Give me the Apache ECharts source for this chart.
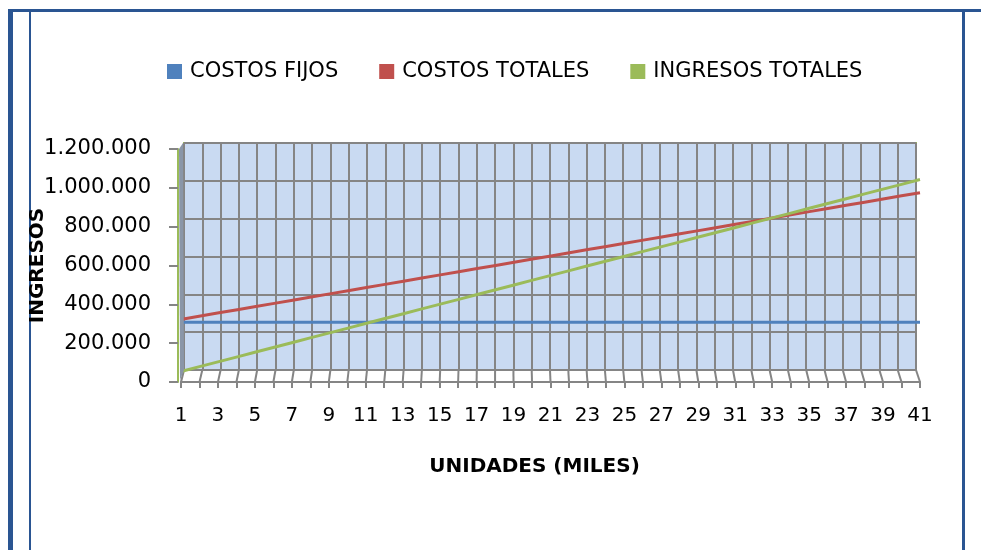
<!DOCTYPE html>
<html>
<head>
<meta charset="utf-8">
<script src="https://cdn.jsdelivr.net/npm/echarts@6/dist/echarts.min.js"></script>
<style>
  html, body { margin: 0; padding: 0; background: #fff; }
  #main { width: 981px; height: 550px; }
</style>
</head>
<body>
<div id="main"></div>
<script>
// datos (unidades en miles)
var unidades = ['1', '2', '3', '4', '5', '6', '7', '8', '9', '10',
  '11', '12', '13', '14', '15', '16', '17', '18', '19', '20',
  '21', '22', '23', '24', '25', '26', '27', '28', '29', '30',
  '31', '32', '33', '34', '35', '36', '37', '38', '39', '40', '41']
var costosFijos = [280000, 280000, 280000, 280000, 280000, 280000, 280000, 280000, 280000, 280000,
  280000, 280000, 280000, 280000, 280000, 280000, 280000, 280000, 280000, 280000,
  280000, 280000, 280000, 280000, 280000, 280000, 280000, 280000, 280000, 280000,
  280000, 280000, 280000, 280000, 280000, 280000, 280000, 280000, 280000, 280000, 280000]
var costosTotales = [296500, 313000, 329500, 346000, 362500, 379000, 395500, 412000, 428500, 445000,
  461500, 478000, 494500, 511000, 527500, 544000, 560500, 577000, 593500, 610000,
  626500, 643000, 659500, 676000, 692500, 709000, 725500, 742000, 758500, 775000,
  791500, 808000, 824500, 841000, 857500, 874000, 890500, 907000, 923500, 940000, 956500]
var ingresosTotales = [25000, 50000, 75000, 100000, 125000, 150000, 175000, 200000, 225000, 250000,
  275000, 300000, 325000, 350000, 375000, 400000, 425000, 450000, 475000, 500000,
  525000, 550000, 575000, 600000, 625000, 650000, 675000, 700000, 725000, 750000,
  775000, 800000, 825000, 850000, 875000, 900000, 925000, 950000, 975000, 1000000, 1025000]
var yMin = 0
var yMax = 1200000
var yInterval = 200000

// geometria del "3D": eje frontal y pared del fondo
var FRONT = { left: 181, right: 920 }
var BACK = { left: 184, right: 916, bottom: 370 }

var FONT = 'DejaVu Sans'
var GRIS = '#858585'
var AZUL = '#4f81bd'
var ROJO = '#c0504d'
var VERDE = '#9bbb59'

function miles(v) {
  return String(v).replace(/\B(?=(\d{3})+(?!\d))/g, '.')
}

var chart = echarts.init(document.getElementById('main'))

var option = {
  animation: false,
  textStyle: { fontFamily: FONT },
  graphic: [
    // marco de la pagina
    { type: 'rect', shape: { x: 8, y: 9, width: 973, height: 3 }, style: { fill: '#2a5592' } },
    { type: 'rect', shape: { x: 8, y: 9, width: 5, height: 541 }, style: { fill: '#2a5592' } },
    { type: 'rect', shape: { x: 29, y: 11, width: 2, height: 539 }, style: { fill: '#2a5592' } },
    { type: 'rect', shape: { x: 962, y: 11, width: 3, height: 539 }, style: { fill: '#2a5592' } },
    // pared lateral
    {
      type: 'polygon',
      shape: { points: [[179, 149], [183, 143], [184, 370], [180, 380]] },
      style: { fill: '#8a96a8' },
      z: 10
    }
  ],
  legend: {
    data: ['COSTOS FIJOS', 'COSTOS TOTALES', 'INGRESOS TOTALES'],
    icon: 'rect',
    itemWidth: 15,
    itemHeight: 15,
    itemGap: 41,
    left: 162,
    top: 56,
    textStyle: { fontFamily: FONT, fontSize: 21, color: '#000', padding: [0, 0, 0, 3] }
  },
  grid: [
    { left: 178, right: 61, top: 149, bottom: 168 },
    { left: FRONT.left, right: 981 - FRONT.right, top: 149, bottom: 168 },
    {
      left: BACK.left, right: 981 - BACK.right, top: 143, bottom: 550 - BACK.bottom,
      show: true, backgroundColor: '#c9daf2', borderColor: VERDE, borderWidth: 2, z: 1
    },
    { left: 182, right: 61, top: 146, bottom: 174 }
  ],
  xAxis: [
    { gridIndex: 0, type: 'value', show: false },
    {
      gridIndex: 1,
      type: 'category',
      data: unidades,
      boundaryGap: false,
      name: 'UNIDADES (MILES)',
      nameLocation: 'middle',
      nameGap: 75,
      nameMoveOverlap: false,
      nameTextStyle: {
        fontFamily: FONT, fontSize: 20, fontWeight: 'bold', color: '#000',
        padding: [0, 32, 0, 0]
      },
      axisLine: { lineStyle: { color: GRIS, width: 2 } },
      axisTick: { length: 6, interval: 0, lineStyle: { color: GRIS, width: 2 } },
      axisLabel: { interval: 1, margin: 24, fontSize: 20, color: '#000', fontFamily: FONT },
      splitLine: { show: false },
      z: 3
    },
    {
      gridIndex: 2,
      type: 'category',
      data: unidades,
      boundaryGap: false,
      axisLine: { show: false },
      axisTick: { show: false },
      axisLabel: { show: false },
      splitLine: { show: true, interval: 0, lineStyle: { color: GRIS, width: 2 } },
      z: 2
    },
    { gridIndex: 3, type: 'category', data: unidades, boundaryGap: false, show: false }
  ],
  yAxis: [
    {
      gridIndex: 0,
      type: 'value',
      min: yMin,
      max: yMax,
      interval: yInterval,
      name: 'INGRESOS',
      nameLocation: 'middle',
      nameGap: 130,
      nameMoveOverlap: false,
      nameTextStyle: { fontFamily: FONT, fontSize: 20, fontWeight: 'bold', color: '#000' },
      axisLine: { show: true, lineStyle: { color: VERDE, width: 2 } },
      axisTick: { show: true, length: 9, lineStyle: { color: GRIS, width: 2 } },
      axisLabel: { margin: 27, fontSize: 21, color: '#000', fontFamily: FONT, formatter: miles },
      splitLine: { show: false },
      z: 3
    },
    { gridIndex: 1, type: 'value', min: yMin, max: yMax, show: false },
    {
      gridIndex: 2,
      type: 'value',
      min: yMin,
      max: yMax,
      interval: yInterval,
      axisLine: { show: false },
      axisTick: { show: false },
      axisLabel: { show: false },
      splitLine: { lineStyle: { color: GRIS, width: 2 } },
      z: 2
    },
    { gridIndex: 3, type: 'value', min: yMin, max: yMax, show: false }
  ],
  series: [
    {
      // lineas del piso, del eje frontal a la pared del fondo
      type: 'custom',
      xAxisIndex: 1,
      yAxisIndex: 1,
      silent: true,
      z: 2,
      data: unidades.map(function (u, i) { return [i, 0] }),
      renderItem: function (params, api) {
        var p = api.coord([api.value(0), 0])
        var t = (p[0] - FRONT.left) / (FRONT.right - FRONT.left)
        var bx = BACK.left + t * (BACK.right - BACK.left)
        return {
          type: 'line',
          shape: { x1: p[0], y1: p[1], x2: bx, y2: BACK.bottom },
          style: { stroke: GRIS, lineWidth: 2 }
        }
      }
    },
    {
      name: 'COSTOS FIJOS',
      type: 'line',
      xAxisIndex: 3,
      yAxisIndex: 3,
      data: costosFijos,
      showSymbol: false,
      itemStyle: { color: AZUL },
      lineStyle: { width: 3, color: AZUL },
      z: 5
    },
    {
      name: 'COSTOS TOTALES',
      type: 'line',
      xAxisIndex: 3,
      yAxisIndex: 3,
      data: costosTotales,
      showSymbol: false,
      itemStyle: { color: ROJO },
      lineStyle: { width: 3, color: ROJO },
      z: 5
    },
    {
      name: 'INGRESOS TOTALES',
      type: 'line',
      xAxisIndex: 3,
      yAxisIndex: 3,
      data: ingresosTotales,
      showSymbol: false,
      itemStyle: { color: VERDE },
      lineStyle: { width: 3, color: VERDE },
      z: 5
    }
  ]
}

chart.setOption(option)
</script>
</body>
</html>
